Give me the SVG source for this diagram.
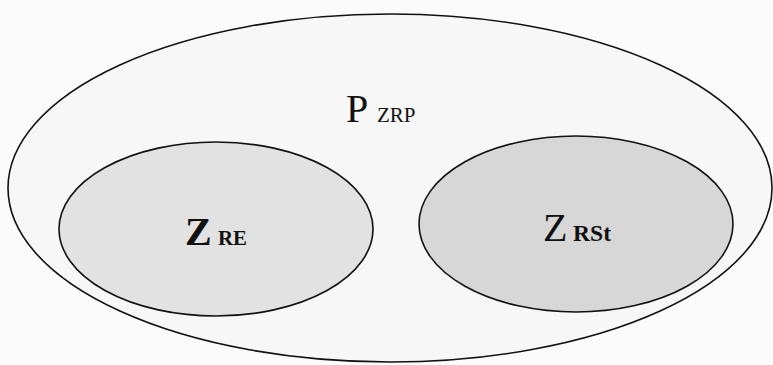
<svg xmlns="http://www.w3.org/2000/svg" width="773" height="365" viewBox="0 0 773 365">
<style>
.e{stroke:#111;stroke-width:1.6}
.t{font-family:"Liberation Serif","Times New Roman",serif;fill:#111}
</style>
<rect width="773" height="365" fill="#fbfbfb"/>
<g id="PZRP">
<ellipse class="e" cx="390" cy="188" rx="382" ry="174" fill="#f7f7f7"/>
<text class="t" x="346" y="122" font-size="40">P</text>
<text class="t" x="377" y="122" font-size="21">ZRP</text>
</g>
<g id="ZRE">
<ellipse class="e" cx="216" cy="229" rx="157" ry="87" fill="#e2e2e2"/>
<text class="t" x="185" y="245" font-size="40" font-weight="bold">Z</text>
<text class="t" x="218" y="245" font-size="22" font-weight="bold" textLength="29" lengthAdjust="spacingAndGlyphs">RE</text>
</g>
<g id="ZRSt">
<ellipse class="e" cx="576" cy="224" rx="157" ry="88" fill="#d7d7d7"/>
<text class="t" x="543" y="241" font-size="40">Z</text>
<text class="t" x="573" y="241" font-size="23" font-weight="bold" textLength="38" lengthAdjust="spacingAndGlyphs">RSt</text>
</g>
<g id="connectors"/>
</svg>
